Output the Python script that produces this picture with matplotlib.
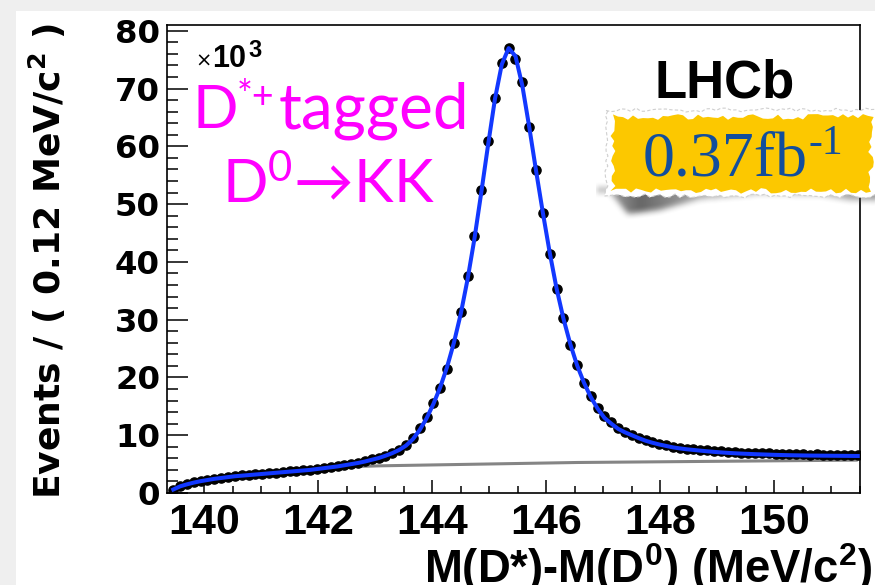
import numpy as np
import matplotlib
matplotlib.use("Agg")
import matplotlib.pyplot as plt
from matplotlib.patches import Rectangle, Polygon
from matplotlib.ticker import MultipleLocator

plt.rcParams['mathtext.default'] = 'regular'

W, H, DPI = 875, 585, 100

# Delta-m histogram: 101 bins of 0.12 MeV/c^2
bin_first = 139.46
bin_width = 0.12
n_bins = 101
delta_m = bin_first + bin_width * np.arange(n_bins)

# candidates per bin, in units of 10^3
events_k = [
    0.5, 1.2, 1.5, 1.85, 2.05, 2.3, 2.45, 2.6, 2.8, 2.9,
    3.05, 3.1, 3.25, 3.3, 3.45, 3.5, 3.6, 3.75, 3.8, 3.95,
    4.05, 4.2, 4.3, 4.5, 4.65, 4.85, 5.05, 5.25, 5.5, 5.85,
    6.1, 6.45, 6.85, 7.45, 8.3, 9.6, 11.3, 13.1, 15.5, 18.1,
    21.4, 26.0, 31.4, 37.5, 44.5, 52.5, 60.9, 68.3, 74.4, 77.0,
    75.2, 71.2, 63.4, 55.9, 48.4, 41.3, 35.3, 30.3, 25.6, 22.2,
    19.1, 16.8, 14.7, 13.4, 12.3, 11.3, 10.6, 10.1, 9.6, 9.2,
    8.8, 8.5, 8.3, 8.0, 7.85, 7.7, 7.6, 7.45, 7.4, 7.3,
    7.2, 7.15, 7.05, 7.0, 6.95, 6.9, 6.85, 6.85, 6.8, 6.75,
    6.75, 6.7, 6.7, 6.65, 6.7, 6.6, 6.65, 6.6, 6.6, 6.65,
    6.6,
]

# total fit (signal + background)
fit_total_k = [
    0.6, 1.15, 1.5, 1.8, 2.05, 2.25, 2.45, 2.6, 2.75, 2.9,
    3.0, 3.1, 3.2, 3.3, 3.4, 3.5, 3.6, 3.7, 3.8, 3.9,
    4.0, 4.15, 4.3, 4.45, 4.6, 4.8, 5.0, 5.2, 5.45, 5.75,
    6.05, 6.45, 6.9, 7.45, 8.2, 9.3, 10.9, 12.9, 15.4, 18.3,
    21.8, 26.0, 31.0, 37.0, 44.0, 52.0, 60.3, 68.2, 74.2, 77.0,
    75.6, 70.5, 63.4, 55.8, 48.5, 41.6, 35.4, 30.2, 25.8, 22.1,
    19.1, 16.6, 14.6, 13.0, 12.0, 11.1, 10.5, 10.0, 9.5, 9.05,
    8.7, 8.4, 8.15, 7.9, 7.72, 7.57, 7.45, 7.33, 7.22, 7.12,
    7.03, 6.95, 6.88, 6.82, 6.77, 6.72, 6.68, 6.64, 6.6, 6.57,
    6.54, 6.52, 6.5, 6.48, 6.47, 6.46, 6.45, 6.44, 6.43, 6.42,
    6.41,
]

# combinatorial background component
fit_bkg_k = [
    0.5, 1.1, 1.45, 1.75, 2.0, 2.2, 2.4, 2.55, 2.7, 2.85,
    2.95, 3.05, 3.15, 3.25, 3.35, 3.45, 3.55, 3.65, 3.75, 3.85,
    3.95, 4.1, 4.2, 4.3, 4.4, 4.5, 4.55, 4.6, 4.63, 4.66,
    4.7, 4.72, 4.74, 4.76, 4.78, 4.8, 4.82, 4.84, 4.86, 4.88,
    4.9, 4.92, 4.94, 4.96, 4.98, 5.0, 5.02, 5.04, 5.06, 5.08,
    5.1, 5.12, 5.14, 5.16, 5.18, 5.2, 5.22, 5.24, 5.26, 5.28,
    5.29, 5.3, 5.31, 5.32, 5.33, 5.34, 5.35, 5.36, 5.37, 5.38,
    5.39, 5.4, 5.41, 5.42, 5.43, 5.44, 5.45, 5.46, 5.47, 5.48,
    5.49, 5.5, 5.51, 5.52, 5.53, 5.54, 5.55, 5.56, 5.57, 5.58,
    5.59, 5.6, 5.61, 5.62, 5.63, 5.64, 5.65, 5.66, 5.67, 5.68,
    5.69,
]

x_ticks = [140, 142, 144, 146, 148, 150]
y_ticks = [0, 10, 20, 30, 40, 50, 60, 70, 80]

fig = plt.figure(figsize=(W / DPI, H / DPI), dpi=DPI, facecolor='#efefef')
fig.add_artist(Rectangle((16 / W, 0), 1, 1 - 11 / H, transform=fig.transFigure,
                         facecolor='white', edgecolor='none', zorder=-5))

# main frame in pixel geometry
L, R, T, B = 167, 860, 25, 493
ax = fig.add_axes([L / W, 1 - B / H, (R - L) / W, (B - T) / H])
ax.set_zorder(1)
ax.set_facecolor('none')

ax.plot(delta_m, fit_bkg_k, color='#858585', lw=2.2, zorder=2, solid_capstyle='butt')
ax.plot(delta_m, events_k, 'o', color='black', ms=6.6, zorder=3)
ax.plot(delta_m, fit_total_k, color='#1238ff', lw=2.9, zorder=4, solid_joinstyle='round')

ax.set_xlim(139.35, 151.50)
ax.set_ylim(0, 81.0)
ax.set_xticks(x_ticks)
ax.set_yticks(y_ticks)
ax.xaxis.set_minor_locator(MultipleLocator(0.5))
ax.yaxis.set_minor_locator(MultipleLocator(2))
ax.tick_params(axis='x', which='major', direction='in', length=9.4, width=1.1,
               pad=7, top=False, labelsize=31)
ax.tick_params(axis='x', which='minor', direction='in', length=5, width=1.1, top=False)
ax.tick_params(axis='y', which='major', direction='in', length=15, width=1.1,
               pad=5, right=False, labelsize=23.3)
ax.tick_params(axis='y', which='minor', direction='in', length=8, width=1.1, right=False)
for lab in ax.get_xticklabels():
    lab.set_fontfamily('Liberation Sans')
    lab.set_fontweight('bold')
for lab in ax.get_yticklabels():
    lab.set_fontfamily('DejaVu Sans')
    lab.set_fontweight('bold')
for sp in ax.spines.values():
    sp.set_linewidth(1.2)
    sp.set_color('black')

# overlay in pixel coordinates for titles and annotations
ov = fig.add_axes([0, 0, 1, 1])
ov.set_zorder(2)
ov.set_facecolor('none')
ov.axis('off')
ov.set_xlim(0, W)
ov.set_ylim(H, 0)

ov.text(47, 261, 'Events / ( 0.12 MeV/c$^{2}$ )', rotation=90, ha='center', va='center',
        fontsize=26, fontfamily='DejaVu Sans', fontweight='bold')
ov.text(872, 583, 'M(D*)-M(D$^{0}$) (MeV/c$^{2}$)', ha='right', va='baseline',
        fontsize=32.8, fontfamily='Liberation Sans', fontweight='bold')

# exponent of the y axis
ov.text(195, 67, '\u00d7', ha='left', va='baseline', fontsize=14, fontfamily='DejaVu Sans')
ov.text(212, 67, '10', ha='left', va='baseline', fontsize=22,
        fontfamily='Liberation Sans', fontweight='bold')
ov.text(248, 57, '3', ha='left', va='baseline', fontsize=17,
        fontfamily='Liberation Sans', fontweight='bold')

# decay channel
magenta = '#ff00ff'
ov.text(193, 128, 'D', ha='left', va='baseline', fontsize=43,
        fontfamily='Lato', color=magenta)
ov.text(237, 108, '*+', ha='left', va='baseline', fontsize=27,
        fontfamily='Lato', color=magenta)
ov.text(279, 128, 'tagged', ha='left', va='baseline', fontsize=46,
        fontfamily='Lato', color=magenta)
ov.text(222, 203, 'D$^{0}$\u2192KK', ha='left', va='baseline', fontsize=43,
        fontfamily='Lato', color=magenta)

ov.text(655, 97, 'LHCb', ha='left', va='baseline', fontsize=38,
        fontfamily='Liberation Sans', fontweight='bold')

# torn-paper luminosity tag
rng = np.random.default_rng(7)


def torn_rect(x0, x1, y0, y1, amp, step):
    top = [(x, y0 + rng.uniform(-amp, amp)) for x in np.arange(x0, x1, step)]
    right = [(x1 + rng.uniform(-amp, amp), y) for y in np.arange(y0, y1, step)]
    bottom = [(x, y1 + rng.uniform(-amp, amp)) for x in np.arange(x1, x0, -step)]
    left = [(x0 + rng.uniform(-amp, amp), y) for y in np.arange(y1, y0, -step)]
    return np.array(top + right + bottom + left)


sx0, sx1, sy0, sy1 = 596, 880, 180, 232
xs = np.arange(sx0, sx1) + 0.5
ys = np.arange(sy0, sy1) + 0.5
X, Y = np.meshgrid(xs, ys)
thick = np.interp(xs, [610, 628, 660, 700, 760, 820, 850, 880], [4, 26, 22, 11, 6, 7, 12, 12])
strength = np.interp(xs, [610, 640, 700, 800, 880], [0.55, 0.9, 0.5, 0.4, 0.6])
mask = ((Y >= 188) & (Y <= 188 + thick[None, :])) * strength[None, :]


def box_blur(a, r):
    k = np.ones(2 * r + 1) / (2 * r + 1)
    a = np.apply_along_axis(lambda v: np.convolve(v, k, mode='same'), 0, a)
    return np.apply_along_axis(lambda v: np.convolve(v, k, mode='same'), 1, a)


mask = box_blur(box_blur(mask, 3), 3)
shadow = np.zeros(mask.shape + (4,))
shadow[..., :3] = 0.33
shadow[..., 3] = np.clip(mask, 0, 1)
ov.imshow(shadow, extent=(sx0, sx1, sy1, sy0), interpolation='bilinear', aspect='auto', zorder=1)

ov.add_patch(Polygon(torn_rect(606, 880, 110, 196, 2.0, 5), closed=True, facecolor='white',
                     edgecolor='#cfcfcf', lw=0.8, ls=(0, (3, 2)), zorder=2))
ov.add_patch(Polygon(torn_rect(613, 871, 117, 191, 3.0, 5), closed=True, facecolor='#fcc800',
                     edgecolor='none', zorder=3))
lumi = ov.text(643, 175, '0.37fb', ha='left', va='baseline', fontsize=46,
               fontfamily='Liberation Serif', color='#124e9c', zorder=4)
ov.annotate('-1', xy=(1, 0), xycoords=lumi, xytext=(0, 25), textcoords='offset points',
            ha='left', va='baseline', fontsize=30, fontfamily='Liberation Serif',
            color='#124e9c', zorder=4)

ov.set_xlim(0, W)
ov.set_ylim(H, 0)

fig.savefig('out.png', dpi=DPI, facecolor=fig.get_facecolor())
